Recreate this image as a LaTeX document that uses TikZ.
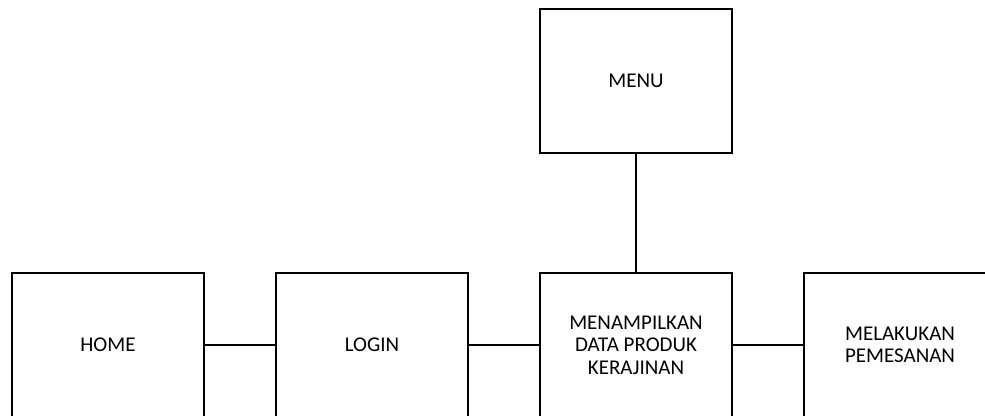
\documentclass[tikz,border=0pt]{standalone}
\usepackage{fontspec}
\setmainfont{Carlito}
\begin{document}
\begin{tikzpicture}[x=1pt,y=-1pt,
  box/.style={draw=black,line width=1.3pt,minimum width=192pt,minimum height=144pt,
    inner sep=0pt,align=center,font=\fontsize{21}{22.5}\selectfont},
  link/.style={draw=black,line width=1.3pt}]
\useasboundingbox (0,0) rectangle (985,415);
\clip (0,0) rectangle (985,415);
\node[box] (menu)  at (636,81)  {MENU};
\node[box] (home)  at (108,345) {HOME};
\node[box] (login) at (372,345) {LOGIN};
\node[box] (data)  at (636,345) {MENAMPILKAN\\DATA PRODUK\\KERAJINAN};
\node[box] (pesan) at (900,345) {MELAKUKAN\\PEMESANAN};
\draw[link] (menu.south) -- (data.north);
\draw[link] (home.east) -- (login.west);
\draw[link] (login.east) -- (data.west);
\draw[link] (data.east) -- (pesan.west);
\end{tikzpicture}
\end{document}
